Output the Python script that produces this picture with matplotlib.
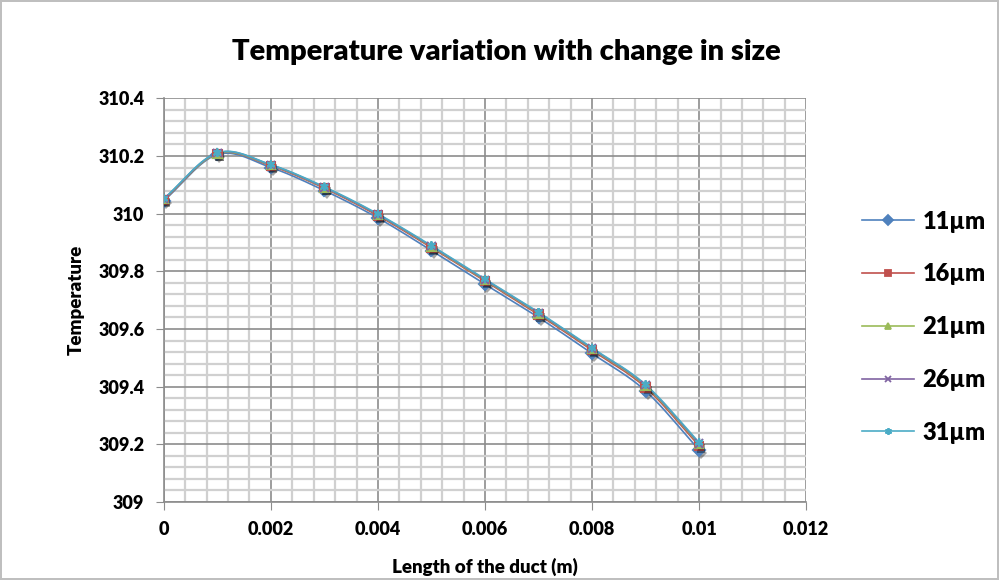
import numpy as np
import matplotlib.pyplot as plt
import matplotlib.patheffects as pe

# data
length = [0, 0.001, 0.002, 0.003, 0.004, 0.005, 0.006, 0.007, 0.008, 0.009, 0.01]
t_11 = [310.045, 310.205, 310.160, 310.080, 309.985, 309.872, 309.755, 309.640, 309.515, 309.385, 309.180]
t_16 = [310.048, 310.208, 310.166, 310.088, 309.993, 309.882, 309.766, 309.650, 309.526, 309.397, 309.195]
t_21 = [310.050, 310.208, 310.168, 310.090, 309.996, 309.885, 309.769, 309.654, 309.530, 309.402, 309.200]
t_26 = [310.051, 310.210, 310.169, 310.091, 309.997, 309.887, 309.771, 309.656, 309.532, 309.405, 309.203]
t_31 = [310.052, 310.211, 310.170, 310.093, 309.999, 309.889, 309.773, 309.658, 309.534, 309.407, 309.206]

labels = ['11µm', '16µm', '21µm', '26µm', '31µm']
series = [t_11, t_16, t_21, t_26, t_31]
colors = ['#4F81BD', '#C0504D', '#9BBB59', '#8064A2', '#4BACC6']
markers = ['D', 's', '^', 'x', (6, 2, 0)]

xticks = [0, 0.002, 0.004, 0.006, 0.008, 0.01, 0.012]
xtick_labels = ['0', '0.002', '0.004', '0.006', '0.008', '0.01', '0.012']
yticks = [309, 309.2, 309.4, 309.6, 309.8, 310, 310.2, 310.4]
ytick_labels = ['309', '309.2', '309.4', '309.6', '309.8', '310', '310.2', '310.4']


def smooth(x, y, n=20):
    # Excel-like smoothed line (Catmull-Rom through the points)
    x = np.asarray(x, float)
    y = np.asarray(y, float)
    px = np.concatenate([[2 * x[0] - x[1]], x, [2 * x[-1] - x[-2]]])
    py = np.concatenate([[2 * y[0] - y[1]], y, [2 * y[-1] - y[-2]]])
    xs, ys = [], []
    t = np.linspace(0, 1, n, endpoint=False)
    for i in range(1, len(px) - 2):
        for p, out in ((px, xs), (py, ys)):
            p0, p1, p2, p3 = p[i - 1], p[i], p[i + 1], p[i + 2]
            out.extend(0.5 * (2 * p1 + (-p0 + p2) * t + (2 * p0 - 5 * p1 + 4 * p2 - p3) * t ** 2
                              + (-p0 + 3 * p1 - 3 * p2 + p3) * t ** 3))
    xs.append(x[-1])
    ys.append(y[-1])
    return np.array(xs), np.array(ys)


plt.rcParams['font.family'] = ['Lato', 'DejaVu Sans']
W = 'heavy'

fig = plt.figure(figsize=(9.99, 5.8), dpi=100)
fig.patch.set_edgecolor('#BFBFBF')
fig.patch.set_linewidth(1.5)
ax = fig.add_axes([0.164, 0.1345, 0.643, 0.696])

shadow = [pe.SimplePatchShadow(offset=(1.5, -2), shadow_rgbFace='k', alpha=0.35), pe.Normal()]
for y, lab, c, m in zip(series, labels, colors, markers):
    sx, sy = smooth(length, y)
    ax.plot(sx, sy, color=c, lw=1.2, zorder=3)
    ax.plot(length, y, ls='none', marker=m, color=c, ms=6, mew=1.5, zorder=4,
            path_effects=shadow)
    # legend proxy
    ax.plot([], [], color=c, marker=m, ms=5, mew=1.3, lw=1.2, label=lab)

ax.set_xlim(0, 0.012)
ax.set_ylim(309, 310.4)
ax.set_xticks(xticks, xtick_labels, fontsize=13, fontweight=W)
ax.set_yticks(yticks, ytick_labels, fontsize=13, fontweight=W)
ax.set_xticks(np.arange(0, 0.0121, 0.0004), minor=True)
ax.set_yticks(np.arange(309, 310.41, 0.04), minor=True)

ax.grid(which='minor', color='#D0D0D0', lw=1.6, zorder=0)
ax.grid(which='major', color='#8C8C8C', lw=1.2, zorder=1)
ax.set_axisbelow(True)
for s in ['top', 'right']:
    ax.spines[s].set_visible(False)
for s in ['left', 'bottom']:
    ax.spines[s].set_color('#8C8C8C')
    ax.spines[s].set_linewidth(1.2)
ax.tick_params(which='major', length=6, color='#8C8C8C', pad=8)
ax.tick_params(which='minor', length=0)

fig.suptitle('Temperature variation with change in size', x=0.507, y=0.91,
             va='center', fontsize=21, fontweight=W)
ax.set_xlabel('Length of the duct (m)', fontsize=13.5, fontweight=W, labelpad=14)
ax.set_ylabel('Temperature', fontsize=13.5, fontweight=W, labelpad=10)

fig.legend(loc='center left', bbox_to_anchor=(0.842, 0.436), frameon=False,
           prop={'size': 17, 'weight': W}, labelspacing=1.3,
           handlelength=2.2, handletextpad=0.35)

fig.savefig('out.png', dpi=100)
